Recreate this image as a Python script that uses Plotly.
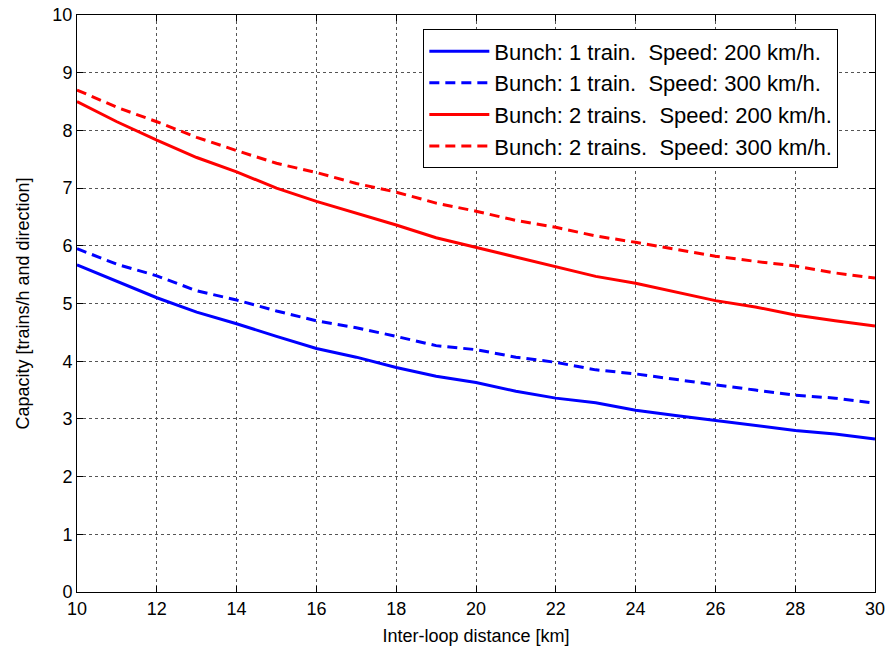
import plotly.graph_objects as go

distance_km = list(range(10, 31))

cap_1train_200 = [5.67, 5.38, 5.10, 4.85, 4.65, 4.43, 4.22, 4.07, 3.89, 3.74, 3.63,
                  3.48, 3.36, 3.28, 3.15, 3.06, 2.97, 2.89, 2.80, 2.74, 2.65]
cap_1train_300 = [5.95, 5.68, 5.48, 5.22, 5.06, 4.87, 4.70, 4.58, 4.43, 4.27, 4.20,
                  4.07, 3.98, 3.85, 3.78, 3.68, 3.59, 3.50, 3.41, 3.36, 3.27]
cap_2trains_200 = [8.50, 8.15, 7.83, 7.53, 7.28, 7.00, 6.77, 6.57, 6.36, 6.14, 5.97,
                   5.80, 5.64, 5.47, 5.35, 5.20, 5.05, 4.94, 4.80, 4.70, 4.61]
cap_2trains_300 = [8.70, 8.40, 8.15, 7.88, 7.65, 7.43, 7.27, 7.08, 6.93, 6.74, 6.60,
                   6.44, 6.32, 6.17, 6.06, 5.94, 5.82, 5.73, 5.65, 5.53, 5.44]

series_names = [
    "Bunch: 1 train.  Speed: 200 km/h.",
    "Bunch: 1 train.  Speed: 300 km/h.",
    "Bunch: 2 trains.  Speed: 200 km/h.",
    "Bunch: 2 trains.  Speed: 300 km/h.",
]
series_values = [cap_1train_200, cap_1train_300, cap_2trains_200, cap_2trains_300]
series_colors = ["#0000ff", "#0000ff", "#ff0000", "#ff0000"]
series_dash = ["solid", "10px,6px", "solid", "10px,6px"]

x_ticks = list(range(10, 31, 2))
y_ticks = list(range(0, 11))

REG = "Liberation Sans, Arial"

fig = go.Figure()
for name, vals, col, dash in zip(series_names, series_values, series_colors, series_dash):
    fig.add_trace(go.Scatter(
        x=distance_km, y=vals, mode="lines", name=name,
        line=dict(color=col, width=3, dash=dash),
    ))

axis_common = dict(
    showline=True, linecolor="black", linewidth=1, mirror="ticks",
    ticks="inside", ticklen=6, tickcolor="black",
    showgrid=True, gridcolor="#555555", griddash="dot", gridwidth=1,
    zeroline=False, automargin=False,
    tickfont=dict(family=REG, size=18, color="black"),
)

fig.update_xaxes(range=[10, 30], tickvals=x_ticks,
                 title=dict(text="Inter-loop distance [km]", standoff=11,
                            font=dict(family=REG, size=18, color="black")),
                 **axis_common)
fig.update_yaxes(range=[0, 10], tickvals=y_ticks,
                 title=dict(text="Capacity [trains/h and direction]", standoff=18,
                            font=dict(family=REG, size=18, color="black")),
                 **axis_common)

fig.update_layout(
    width=889, height=653,
    margin=dict(l=77, r=14, t=15, b=61),
    plot_bgcolor="white", paper_bgcolor="white",
    font=dict(family=REG, color="black"),
    legend=dict(
        x=0.434, y=0.975, xanchor="left", yanchor="top",
        bgcolor="white", bordercolor="black", borderwidth=1,
        font=dict(family=REG, size=22, color="black"),
        tracegroupgap=0, itemwidth=60,
    ),
)

fig.write_html("out.html")
